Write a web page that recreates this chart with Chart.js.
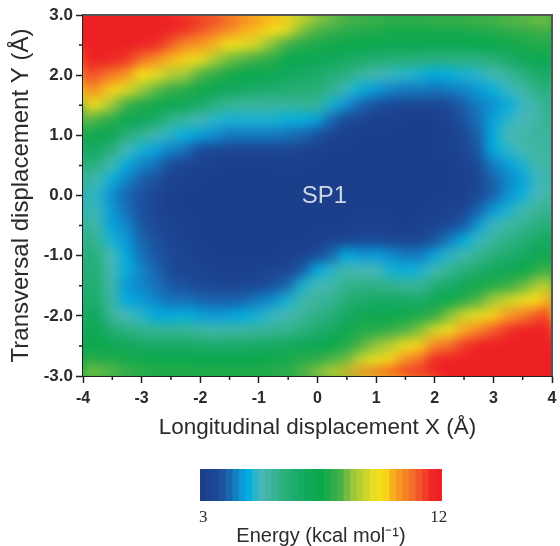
<!DOCTYPE html>
<html>
<head>
<meta charset="utf-8">
<title>Energy map</title>
<script src="https://cdn.jsdelivr.net/npm/chart.js@4/dist/chart.umd.min.js"></script>
<style>
  html, body { margin: 0; padding: 0; background: #fff; }
  #wrap { position: relative; width: 560px; height: 546px; overflow: hidden; }
  canvas { position: absolute; left: 0; }
</style>
</head>
<body>
<div id="wrap">
  <canvas id="mapa" width="560" height="450" style="top:0;width:560px;height:450px"></canvas>
  <canvas id="barra" width="560" height="96" style="top:450px;width:560px;height:96px"></canvas>
</div>
<script>
const xValues = [-4,-3.75,-3.5,-3.25,-3,-2.75,-2.5,-2.25,-2,-1.75,-1.5,-1.25,-1,-0.75,-0.5,-0.25,0,0.25,0.5,0.75,1,1.25,1.5,1.75,2,2.25,2.5,2.75,3,3.25,3.5,3.75,4];
const yValues = [3,2.75,2.5,2.25,2,1.75,1.5,1.25,1,0.75,0.5,0.25,0,-0.25,-0.5,-0.75,-1,-1.25,-1.5,-1.75,-2,-2.25,-2.5,-2.75,-3];

const energy = [
  [12,12,12,12,11.6,10.8,10,8.7,7.8,7,6.4,5.9,5.6,5.7,5.9,6.2,6.4,6.5,6.6,6.8,7,7.2,7.5,8,8.9],
  [12,12,12,12,11.2,10.5,9.5,8.2,7.3,6.7,6,5.3,5,5.1,5.4,5.7,6,6.2,6.3,6.5,6.9,7.2,7.5,7.9,8.7],
  [12,12,12,11.8,10.9,10,8.8,7.9,7.2,6.1,5.3,4.8,4.4,4.5,4.6,4.9,5.2,5.3,5.4,5.5,5.6,6.4,7.2,7.8,8.5],
  [12,12,12,11.6,10.5,9.4,8.2,7.3,6.2,5.2,4.7,4.3,4,4.1,4.3,4.5,4.7,4.8,4.5,4.7,5.2,6,7,7.7,8.3],
  [12,12,11.9,11,9.9,8.8,7.8,7,5.8,4.9,4.3,3.9,3.7,3.7,3.8,4,4.1,4.3,4.3,4.5,5,5.8,6.8,7.6,8.2],
  [12,12,11.7,10.6,9.5,8.4,7.6,6.7,5.3,4.6,4.1,3.7,3.4,3.4,3.5,3.7,3.8,4,4.1,4.3,4.7,5.7,6.7,7.5,8.1],
  [12,11.9,11.2,10.2,9,8.1,7.3,5.8,5,4.3,3.6,3.2,3.1,3.1,3.2,3.4,3.5,3.6,3.8,4.1,4.7,5.7,6.7,7.5,8.1],
  [12,11.6,10.7,10,8.8,7.9,7,5.6,4.8,4.1,3.4,3.1,3,3,3.1,3.2,3.3,3.4,3.7,4.1,4.8,5.7,6.7,7.5,8.1],
  [11.8,11.3,10.5,9.6,8.3,7.6,6.6,5.3,4.6,3.6,3.2,3,3,3,3,3,3.1,3.3,3.5,4,4.6,5.5,6.6,7.5,8],
  [11.6,11,10.2,8.9,8,7.4,6,5,4.4,3.5,3.1,3,3,3,3,3,3,3.2,3.4,3.9,4.5,5.4,6.5,7.5,8],
  [11.2,10.7,9.8,8.5,7.7,7,5.7,4.9,4.2,3.3,3,3,3,3,3,3,3,3.1,3.4,3.9,4.6,5.5,6.6,7.5,8],
  [11,10.3,9.5,8.3,7.5,6.8,5.6,4.9,4.2,3.3,3,3,3,3,3,3,3,3.1,3.4,4,4.7,5.5,6.6,7.5,8],
  [10.8,10.1,9.2,8.1,7.3,6.6,5.6,4.9,4.2,3.3,3,3,3,3,3,3,3,3.2,3.5,4.2,4.9,5.6,6.7,7.5,8],
  [10.4,9.9,8.6,7.9,7.2,6.5,5.6,4.9,4.2,3.3,3,3,3,3,3,3,3,3.3,3.7,4.4,5.1,5.7,6.8,7.6,8],
  [10.1,9.4,8.2,7.4,6.9,6.4,5.6,4.8,4.1,3.3,3.1,3,3,3,3,3,3.1,3.4,4,4.9,5.3,5.8,6.9,7.7,8.1],
  [9.9,8.6,7.9,7.3,6.8,6.3,5.7,4.8,4,3.2,3,3,3,3,3,3,3.2,3.8,4.9,5.4,5.6,6,7,7.9,8.4],
  [9.1,8.3,7.7,7.2,6.6,6.2,5.7,4.6,3.7,3.1,3,3,3,3,3,3.1,3.6,4.7,5.3,5.6,5.9,6.5,7.2,8,8.9],
  [8.7,8.2,7.6,7,6.3,5.8,4.9,4,3.3,3,3,3,3,3,3,3.2,4,5,5.4,5.7,6.2,6.8,7.5,8.3,9.4],
  [8.4,8,7.55,6.8,6,5.1,4.4,3.5,3.1,3,3,3,3,3,3,3.3,4.7,5.4,5.8,6.3,6.7,7.4,7.9,8.5,10.2],
  [8.3,7.9,7.5,6.6,5.6,4.8,4,3.3,3,3,3,3,3,3,3.1,3.5,4.5,5.2,5.9,6.6,7.1,7.8,8.3,9.2,10.8],
  [8.3,7.8,7.4,6.4,5.3,4.5,3.7,3.1,3,3,3,3,3,3,3.1,3.5,4.5,5.2,5.9,6.7,7.2,7.9,8.7,9.5,11.2],
  [8.2,7.7,7.3,6.3,5.1,4.3,3.5,3.1,3,3,3,3,3,3,3.1,3.5,4.4,4.9,5.8,6.7,7.4,8.1,9,10,11.6],
  [8.2,7.7,7.3,6.2,5,4.2,3.4,3,3,3,3,3,3,3,3,3.3,4.2,4.8,5.7,6.7,7.6,8.3,9.6,10.6,12],
  [8.2,7.7,7.3,6.1,4.9,4.2,3.4,3,3,3,3,3,3,3,3.1,3.3,4.2,4.9,5.6,6.6,7.7,8.6,10,11,12],
  [8.3,7.7,7.3,6,4.7,4.1,3.4,3,3,3,3,3,3,3.1,3.3,3.7,4.6,5.3,6.2,7,8,9.3,10.7,11.7,12],
  [8.3,7.7,7.3,6,4.8,4.2,3.6,3.3,3.1,3.1,3,3,3,3.2,3.5,4.2,5,5.7,6.6,7.5,8.6,9.6,11,12,12],
  [8.3,7.7,7.3,6,4.9,4.3,3.9,3.7,3.5,3.3,3.2,3.1,3.1,3.4,3.8,4.7,5.4,6.1,7,7.9,9.2,10.3,11.5,12,12],
  [8.4,7.8,7.4,6,5,4.5,4.2,4.1,3.9,3.8,3.6,3.4,3.5,3.9,4.5,5.1,5.7,6.5,7.6,8.3,9.5,10.7,11.9,12,12],
  [8.4,7.9,7.5,6.2,5.3,4.8,4.4,4.6,4.7,4.7,4.2,3.9,3.9,4.5,5.1,5.6,6.1,6.9,7.8,8.8,10,11.2,12,12,12],
  [8.5,8,7.6,6.6,5.6,5.1,4.7,5,5.2,5,4.5,4.3,4.4,4.9,5.5,5.9,6.4,7.2,8.1,9.2,10.4,11.6,12,12,12],
  [8.6,8.1,7.7,7,6,5.4,5.1,5.2,5.4,5.3,4.9,4.6,4.8,5.3,5.7,6.2,6.7,7.5,8.4,9.5,10.8,11.9,12,12,12],
  [8.7,8.2,7.8,7.2,6.5,5.9,5.4,5.4,5.6,5.5,5.4,5.1,5.2,5.6,6,6.6,7.2,7.9,8.8,9.9,11.2,12,12,12,12],
  [8.8,8.3,7.9,7.5,7,6.5,6.2,5.9,5.6,5.6,5.5,5.5,5.6,5.9,6.4,7,7.6,8.3,9.3,10.5,11.7,12,12,12,12]
];

const legendLevels = [3,3.25,3.5,3.75,4,4.25,4.5,4.75,5,5.25,5.5,5.75,6,6.25,6.5,6.75,7,7.25,7.5,7.75,8,8.25,8.5,8.75,9,9.25,9.5,9.75,10,10.25,10.5,10.75,11,11.25,11.5,11.75,12];

const colorStops = [
  [3, "#1c3f8c"], [3.6, "#1c4a98"], [4, "#1a67b0"], [4.5, "#0a9ad8"], [4.75, "#00aee0"],
  [5.2, "#4ab8b8"], [6, "#2cb080"], [7, "#10a85a"], [7.5, "#0aa84c"], [8.2, "#3fae4a"],
  [8.8, "#a3c93a"], [9.5, "#e8dd20"], [9.9, "#f8e016"], [10.3, "#f8a81f"], [11, "#f4702a"],
  [11.7, "#ee2a26"], [12, "#ed2024"]
];

const FONTE = "'Liberation Sans', Arial, sans-serif";
const COR_TEXTO = "#2b2b2b";

const hexRgb = (h) => [1, 3, 5].map((i) => parseInt(h.slice(i, i + 2), 16));

function colorFor(v) {
  if (v <= colorStops[0][0]) return colorStops[0][1];
  for (let i = 1; i < colorStops.length; i++) {
    if (v <= colorStops[i][0]) {
      const [a, ca] = colorStops[i - 1];
      const [b, cb] = colorStops[i];
      const t = (v - a) / (b - a);
      const A = hexRgb(ca), B = hexRgb(cb);
      const c = A.map((n, k) => Math.round(n + (B[k] - n) * t));
      return `rgb(${c[0]},${c[1]},${c[2]})`;
    }
  }
  return colorStops[colorStops.length - 1][1];
}

const cells = [];
xValues.forEach((x, i) => yValues.forEach((y, j) => cells.push({ x, y, v: energy[i][j] })));

// suaviza as celulas ja desenhadas pela chart, como no mapa original
const suaviza = {
  id: "suaviza",
  afterDatasetsDraw(chart) {
    const { ctx, chartArea: a, canvas } = chart;
    const w = a.right - a.left, h = a.bottom - a.top, p = 24;
    const tmp = document.createElement("canvas");
    tmp.width = w + p * 2; tmp.height = h + p * 2;
    const t = tmp.getContext("2d");
    t.drawImage(canvas, a.left, a.top, w, h, 0, 0, tmp.width, tmp.height);
    t.drawImage(canvas, a.left, a.top, w, h, p, p, w, h);
    ctx.save();
    ctx.beginPath();
    ctx.rect(a.left, a.top, w, h);
    ctx.clip();
    ctx.filter = "blur(6px)";
    ctx.drawImage(tmp, a.left - p, a.top - p);
    ctx.restore();
  }
};

// moldura, ticks menores e rotulo SP1
const extras = {
  id: "extras",
  afterDraw(chart) {
    const { ctx, chartArea: a, scales } = chart;
    ctx.save();
    ctx.strokeStyle = "#222";
    ctx.lineWidth = 1.5;
    ctx.beginPath();
    [-3.5, -2.5, -1.5, -0.5, 0.5, 1.5, 2.5, 3.5].forEach((v) => {
      const px = scales.x.getPixelForValue(v);
      ctx.moveTo(px, a.bottom); ctx.lineTo(px, a.bottom + 4);
    });
    [2.5, 1.5, 0.5, -0.5, -1.5, -2.5].forEach((v) => {
      const py = scales.y.getPixelForValue(v);
      ctx.moveTo(a.left, py); ctx.lineTo(a.left - 4, py);
    });
    ctx.stroke();
    ctx.strokeStyle = "#555";
    ctx.lineWidth = 2;
    ctx.beginPath();
    ctx.moveTo(a.left, a.top); ctx.lineTo(a.right, a.top); ctx.lineTo(a.right, a.bottom);
    ctx.stroke();
    ctx.fillStyle = "#ccd6e6";
    ctx.font = `24px ${FONTE}`;
    ctx.textAlign = "center";
    ctx.textBaseline = "middle";
    ctx.fillText("SP1", scales.x.getPixelForValue(0.12), scales.y.getPixelForValue(-0.02));
    ctx.restore();
  }
};

new Chart(document.getElementById("mapa"), {
  type: "scatter",
  data: {
    datasets: [{
      label: "Energy",
      data: cells,
      pointStyle: "rect",
      pointRadius: 11.5,
      borderWidth: 0,
      pointBorderWidth: 0,
      backgroundColor: (c) => colorFor(c.raw ? c.raw.v : 3)
    }]
  },
  plugins: [suaviza, extras],
  options: {
    responsive: false,
    animation: false,
    devicePixelRatio: 1,
    layout: { autoPadding: false, padding: { top: 15, right: 8, bottom: 9, left: 0 } },
    plugins: { legend: { display: false }, tooltip: { enabled: false } },
    scales: {
      x: {
        type: "linear", min: -4, max: 4,
        afterFit: (s) => { s.height = 65; s.paddingLeft = 0; s.paddingRight = 0; },
        grid: { drawOnChartArea: false, tickLength: 7, tickColor: "#222", tickWidth: 1.5 },
        border: { color: "#222", width: 2 },
        ticks: { stepSize: 1, maxRotation: 0, padding: 6, color: COR_TEXTO, font: { family: FONTE, size: 16, weight: "bold" }, callback: (v) => String(v) },
        title: { display: true, text: "Longitudinal displacement X (Å)", color: COR_TEXTO, font: { family: FONTE, size: 22.5 }, padding: { top: 0, bottom: 0 } }
      },
      y: {
        type: "linear", min: -3, max: 3,
        afterFit: (s) => { s.width = 83; },
        grid: { drawOnChartArea: false, tickLength: 7, tickColor: "#222", tickWidth: 1.5 },
        border: { color: "#222", width: 2 },
        ticks: { stepSize: 1, padding: 3, color: COR_TEXTO, font: { family: FONTE, size: 17, weight: "bold" }, callback: (v) => v.toFixed(1) },
        title: { display: true, text: "Transversal displacement Y (Å)", color: COR_TEXTO, font: { family: FONTE, size: 24 }, padding: { top: 7, bottom: 0 } }
      }
    }
  }
});

new Chart(document.getElementById("barra"), {
  type: "bar",
  data: {
    labels: legendLevels,
    datasets: [{
      data: legendLevels.map(() => 1),
      backgroundColor: legendLevels.map(colorFor),
      barPercentage: 1,
      categoryPercentage: 1,
      borderWidth: 0
    }]
  },
  options: {
    responsive: false,
    animation: false,
    devicePixelRatio: 1,
    layout: { padding: { top: 19, right: 118, bottom: 0, left: 200 } },
    plugins: { legend: { display: false }, tooltip: { enabled: false } },
    scales: {
      x: {
        afterFit: (s) => { s.height = 45; },
        grid: { display: false, drawTicks: false },
        border: { display: false },
        ticks: {
          autoSkip: false, maxRotation: 0, padding: 6, color: COR_TEXTO,
          font: { family: "'Liberation Serif', serif", size: 17 },
          callback: (v, i) => (i === 0 || i === legendLevels.length - 1 ? String(legendLevels[i]) : "")
        },
        title: { display: true, text: "Energy (kcal mol⁻¹)", color: COR_TEXTO, font: { family: FONTE, size: 20 }, padding: { top: 0, bottom: -2 } }
      },
      y: { display: false, min: 0, max: 1 }
    }
  }
});
</script>
</body>
</html>
